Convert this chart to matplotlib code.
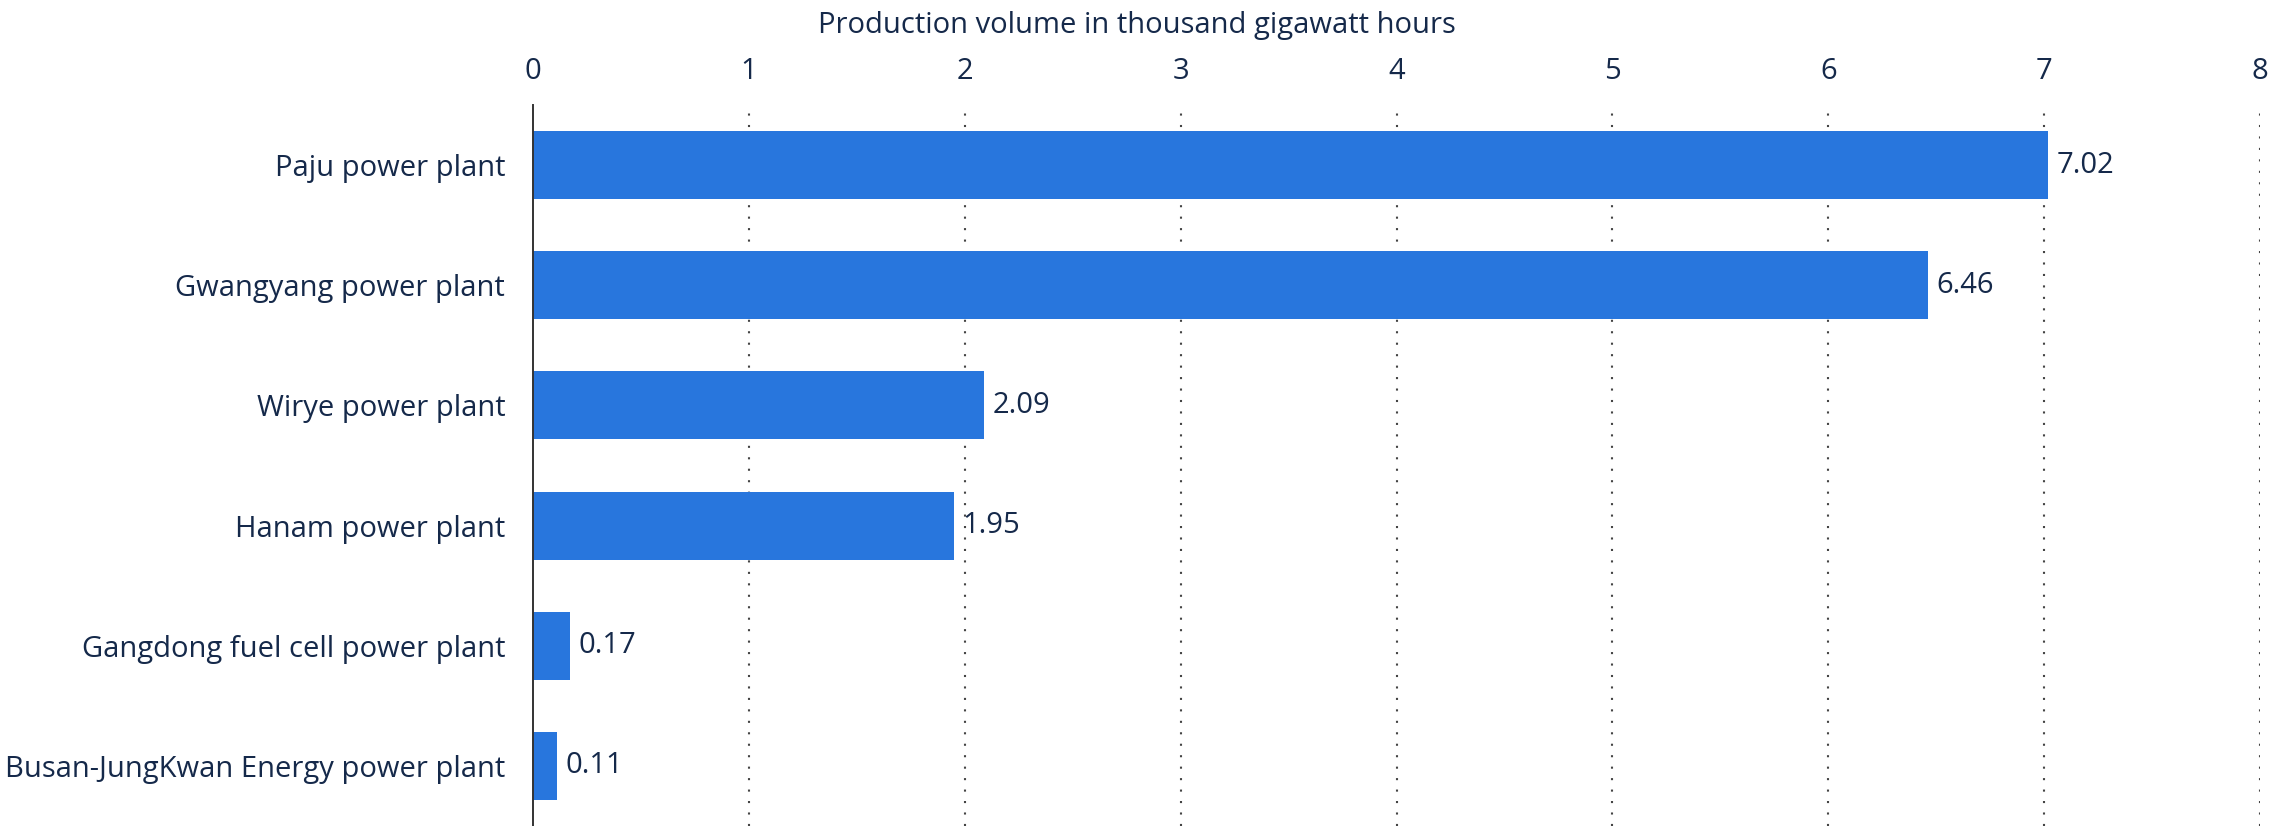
import matplotlib
matplotlib.use("Agg")
import matplotlib.pyplot as plt

categories = [
    "Paju power plant",
    "Gwangyang power plant",
    "Wirye power plant",
    "Hanam power plant",
    "Gangdong fuel cell power plant",
    "Busan-JungKwan Energy power plant",
]
values = [7.02, 6.46, 2.09, 1.95, 0.17, 0.11]
xticks = [0, 1, 2, 3, 4, 5, 6, 7, 8]
xlabel = "Production volume in thousand gigawatt hours"

text_color = "#15294a"
bar_color = "#2876dd"

plt.rcParams["font.family"] = ["Open Sans", "DejaVu Sans"]

fig = plt.figure(figsize=(22.73, 8.26), dpi=100)
ax = fig.add_axes([0.2345, 0.0, 0.9943 - 0.2345, 0.8729])

ypos = list(range(len(categories)))
ax.barh(ypos, values, height=0.565, color=bar_color, zorder=3)

ax.set_ylim(len(categories) - 0.5, -0.5)
ax.set_xlim(0, 8)
ax.set_xticks(xticks)
ax.set_xticklabels([str(t) for t in xticks])
ax.set_yticks(ypos)
ax.set_yticklabels(categories)

ax.xaxis.tick_top()
ax.xaxis.set_label_position("top")
ax.set_xlabel(xlabel, fontsize=21, color=text_color, labelpad=22)
# centre the axis title on the figure, as in the reference
ax.xaxis.set_label_coords((0.5 - 0.2345) / (0.9943 - 0.2345), 1.0)
ax.xaxis.label.set_va("bottom")

ax.tick_params(axis="both", length=0, labelsize=21, labelcolor=text_color)
ax.tick_params(axis="x", pad=14)
ax.tick_params(axis="y", pad=20)

for s in ["top", "right", "bottom"]:
    ax.spines[s].set_visible(False)
ax.spines["left"].set_color("#333333")
ax.spines["left"].set_linewidth(1.4)
ax.spines["left"].set_zorder(4)

for t in xticks[1:]:
    ax.axvline(t, color="#444444", linestyle=(0, (1, 4.5)), linewidth=1.5, zorder=1)

for y, v in zip(ypos, values):
    ax.annotate(f"{v:.2f}", xy=(v, y), xytext=(6, 0), textcoords="offset points",
                va="center", ha="left", fontsize=21, color=text_color, zorder=5)

fig.canvas.draw()
# place the title at fixed pixel position above the axes (baseline near y=27 px from top)
lbl = ax.xaxis.label
lbl.set_transform(fig.transFigure)
lbl.set_position((0.5, 1 - 33 / 826))
lbl.set_va("baseline")

fig.savefig("out.png", dpi=100)
